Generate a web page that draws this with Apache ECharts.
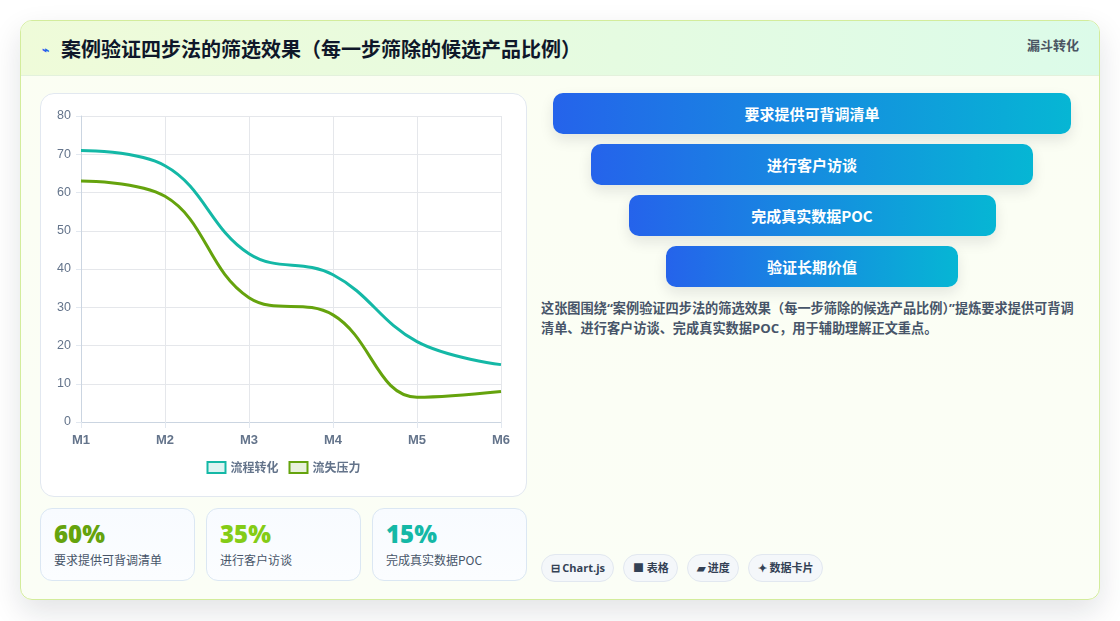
<!DOCTYPE html>
<html lang="zh-CN">
<head>
<meta charset="utf-8">
<title>案例验证四步法的筛选效果</title>
<script src="https://cdn.jsdelivr.net/npm/echarts@6/dist/echarts.min.js"></script>
<style>
  * { box-sizing: border-box; margin: 0; padding: 0; }
  html, body { width: 1120px; height: 621px; background: #ffffff; overflow: hidden; }
  body { font-family: "Segoe UI", "Open Sans", "Noto Sans CJK SC", sans-serif; position: relative; }
  .card {
    position: absolute; left: 20px; top: 20px; width: 1080px; height: 580px;
    border: 1px solid #d3ec9c; border-radius: 12px; overflow: hidden;
    background: linear-gradient(180deg, #fbfef3 0%, #fbfef6 100%);
    box-shadow: 0 12px 30px rgba(15, 23, 42, 0.12);
  }
  .header {
    position: absolute; left: 0; top: 0; right: 0; height: 55px;
    background: linear-gradient(90deg, #effbd9 0%, #e6fbe0 50%, #dcfbe9 100%);
    border-bottom: 1px solid #e3f1dc;
  }
  .title {
    position: absolute; left: 21px; top: 13px; font-size: 20px; font-weight: 700;
    color: #0f172a; font-family: "Noto Sans CJK SC", sans-serif; letter-spacing: 0;
  }
  .title .icon { color: #2563eb; font-size: 12px; margin-right: 12px; vertical-align: 3px; }
  .badge {
    position: absolute; right: 20px; top: 14px; font-size: 13px; font-weight: 700;
    color: #4b5563; font-family: "Noto Sans CJK SC", sans-serif;
  }
  .panel {
    position: absolute; left: 19px; top: 72px; width: 487px; height: 404px;
    background: #ffffff; border: 1px solid #e2e8f0; border-radius: 14px;
  }
  #chart { position: absolute; left: 0; top: 0; width: 485px; height: 402px; }
  .stats { position: absolute; left: 19px; top: 487px; width: 487px; height: 73px; display: flex; gap: 11px; }
  .stat {
    flex: 1; border: 1px solid #dbe7f3; border-radius: 12px;
    background: linear-gradient(180deg, #f8fbff 0%, #fbfdff 100%); padding: 10px 13px;
  }
  .stat .v { font-size: 24px; font-weight: 800; line-height: 30px; font-family: "Open Sans", sans-serif; }
  .stat .l { font-size: 12px; color: #475569; margin-top: 2px; font-family: "Noto Sans CJK SC", sans-serif; }
  .right { position: absolute; left: 520px; top: 72px; width: 540px; height: 490px; }
  .funnel { position: relative; width: 540px; }
  .step {
    position: absolute; height: 41px; border-radius: 10px;
    background: linear-gradient(90deg, #2563eb 0%, #06b6d4 100%);
    color: #ffffff; font-weight: 700; font-size: 15px; line-height: 41px; text-align: center;
    font-family: "Noto Sans CJK SC", sans-serif;
    box-shadow: 0 6px 14px rgba(15, 23, 42, 0.10);
  }
  .desc {
    position: absolute; left: 0; top: 205px; width: 540px; font-size: 13.2px; font-weight: 700;
    line-height: 20px; color: #475569; font-family: "Open Sans", "Noto Sans CJK SC", sans-serif;
  }
  .tags { position: absolute; left: 0; top: 461px; display: flex; gap: 9px; }
  .tag {
    height: 28px; padding: 0 8.5px; border-radius: 14px; border: 1px solid #e2e8f0;
    background: #f4f7fa; font-size: 11px; font-weight: 700; color: #334155; line-height: 26px;
    font-family: "Open Sans", "Noto Sans CJK SC", sans-serif;
  }
</style>
</head>
<body>
<div class="card">
  <div class="header">
    <div class="title"><span class="icon">⌁</span>案例验证四步法的筛选效果（每一步筛除的候选产品比例）</div>
    <div class="badge">漏斗转化</div>
  </div>
  <div class="panel"><div id="chart"></div></div>
  <div class="stats" id="stats"></div>
  <div class="right">
    <div class="funnel" id="funnel"></div>
    <div class="desc">这张图围绕“案例验证四步法的筛选效果（每一步筛除的候选产品比例）”提炼要求提供可背调清单、进行客户访谈、完成真实数据POC，用于辅助理解正文重点。</div>
    <div class="tags" id="tags"></div>
  </div>
</div>
<script>
// chart data
const months = ['M1', 'M2', 'M3', 'M4', 'M5', 'M6'];
const seriesNames = ['流程转化', '流失压力'];
const flowValues = [71, 67, 44, 38.5, 21, 15];
const lossValues = [63, 59, 32.5, 28, 6.5, 8];
const yTicks = { min: 0, max: 80, interval: 10 };

// funnel steps and stat cards
const funnelSteps = ['要求提供可背调清单', '进行客户访谈', '完成真实数据POC', '验证长期价值'];
const statValues = ['60%', '35%', '15%'];
const statLabels = ['要求提供可背调清单', '进行客户访谈', '完成真实数据POC'];
const tagLabels = ['⊟ Chart.js', '■ 表格', '▰ 进度', '✦ 数据卡片'];

const statColors = ['#65a30d', '#84cc16', '#14b8a6'];
const lineColors = ['#14b8a6', '#65a30d'];
const fillColors = ['rgba(20,184,166,0.15)', 'rgba(101,163,13,0.15)'];

// funnel blocks, each one narrower than the last
const funnel = document.getElementById('funnel');
funnelSteps.forEach((name, i) => {
    const el = document.createElement('div');
    el.className = 'step';
    const w = 518 - i * 75.5;
    el.style.width = w + 'px';
    el.style.left = (12 + (518 - w) / 2) + 'px';
    el.style.top = (i * 51) + 'px';
    el.textContent = name;
    funnel.appendChild(el);
});

const stats = document.getElementById('stats');
statValues.forEach((v, i) => {
    const el = document.createElement('div');
    el.className = 'stat';
    el.innerHTML = '<div class="v" style="color:' + statColors[i] + '">' + v + '</div><div class="l">' + statLabels[i] + '</div>';
    stats.appendChild(el);
});

const tags = document.getElementById('tags');
tagLabels.forEach(t => {
    const el = document.createElement('div');
    el.className = 'tag';
    el.textContent = t;
    tags.appendChild(el);
});

const myChart = echarts.init(document.getElementById('chart'), null, { renderer: 'canvas' });
const axisFont = '"Liberation Sans", Arial, sans-serif';

const option = {
    animation: false,
    grid: { left: 40, right: 25, top: 22, bottom: 74 },
    legend: {
        bottom: 17,
        left: 'center',
        icon: 'rect',
        itemWidth: 18,
        itemHeight: 11,
        itemGap: 10,
        textStyle: { color: '#64748b', fontSize: 12, fontWeight: 'bold', fontFamily: '"Noto Sans CJK SC", sans-serif' },
        data: seriesNames.map((n, i) => ({
            name: n,
            itemStyle: { color: fillColors[i], borderColor: lineColors[i], borderWidth: 2 }
        }))
    },
    xAxis: {
        type: 'category',
        boundaryGap: false,
        data: months,
        axisLine: { lineStyle: { color: '#cbd5e1' } },
        axisTick: { show: true, length: 6, lineStyle: { color: '#e2e8f0' } },
        axisLabel: { color: '#64748b', fontSize: 13, fontWeight: 'bold', fontFamily: axisFont, margin: 12 },
        splitLine: { show: true, lineStyle: { color: '#e5e7eb' } }
    },
    yAxis: {
        type: 'value',
        min: yTicks.min,
        max: yTicks.max,
        interval: yTicks.interval,
        axisLine: { show: true, lineStyle: { color: '#cbd5e1' } },
        axisTick: { show: true, length: 5, lineStyle: { color: '#e2e8f0' } },
        axisLabel: { color: '#64748b', fontSize: 12.5, fontFamily: axisFont, margin: 10 },
        splitLine: { lineStyle: { color: '#e5e7eb' } }
    },
    series: [
        {
            name: seriesNames[0],
            type: 'line',
            data: flowValues,
            smooth: 0.4,
            showSymbol: false,
            lineStyle: { width: 3, color: lineColors[0] },
            itemStyle: { color: lineColors[0] }
        },
        {
            name: seriesNames[1],
            type: 'line',
            data: lossValues,
            smooth: 0.4,
            showSymbol: false,
            lineStyle: { width: 3, color: lineColors[1] },
            itemStyle: { color: lineColors[1] }
        }
    ]
};

myChart.setOption(option);
window.addEventListener('resize', () => myChart.resize());
</script>
</body>
</html>
